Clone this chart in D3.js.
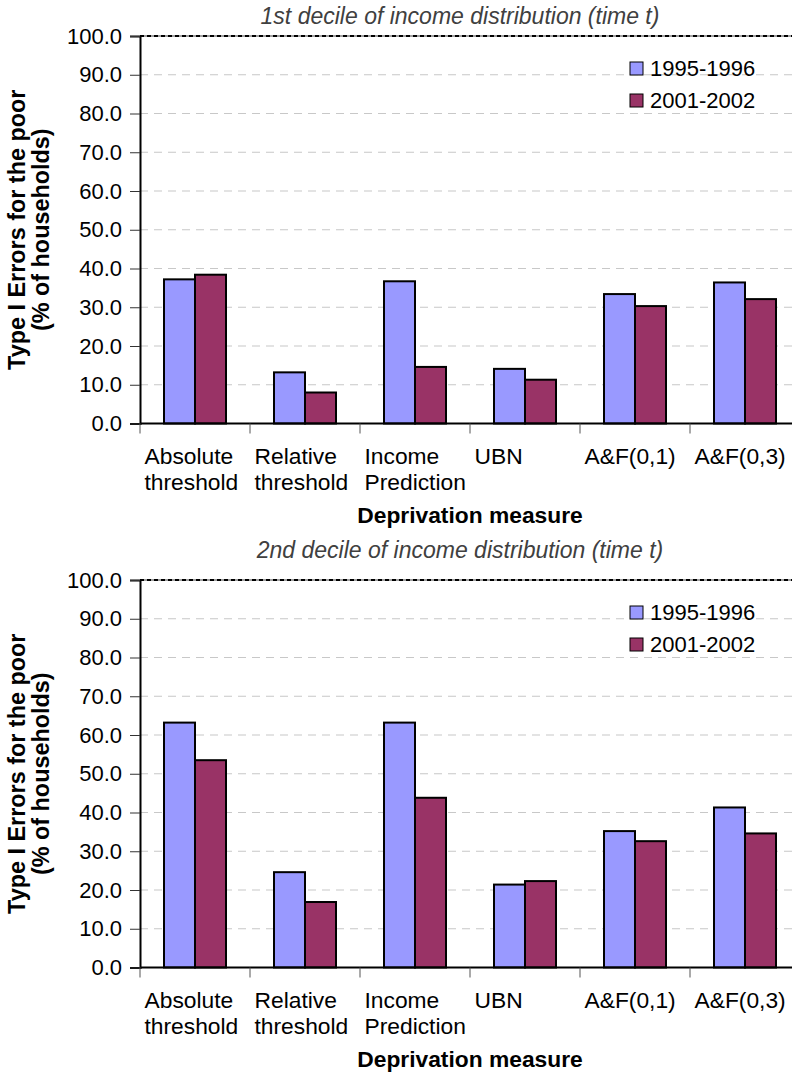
<!DOCTYPE html>
<html>
<head>
<meta charset="utf-8">
<script src="https://cdn.jsdelivr.net/npm/d3@7"></script>
<style>
  body { margin: 0; background: #fff; }
  svg { display: block; font-family: Arial, "Liberation Sans", sans-serif; }
</style>
</head>
<body>
<svg id="drawing_region"></svg>
<script>
var categories = ["Absolute threshold", "Relative threshold", "Income Prediction", "UBN", "A&F(0,1)", "A&F(0,3)"];
var series = ["1995-1996", "2001-2002"];
var colors = ["#9999ff", "#993366"];

// 1st decile
var d1_1995 = [37.2, 13.2, 36.7, 14.1, 33.4, 36.4];
var d1_2001 = [38.4, 8.0, 14.6, 11.3, 30.3, 32.1];
// 2nd decile
var d2_1995 = [63.2, 24.6, 63.2, 21.4, 35.2, 41.3];
var d2_2001 = [53.5, 16.9, 43.8, 22.3, 32.6, 34.6];

var yTicks = [0, 10, 20, 30, 40, 50, 60, 70, 80, 90, 100];

var width = 792;
var height = 1076;

var svg = d3.select('#drawing_region')
    .attr('width', width)
    .attr('height', height);

function drawChart(top, titleY, title, vals) {
    var left = 140, right = 800, plotH = 387.5;
    var bottom = top + plotH;

    var x0 = d3.scaleBand()
        .domain(categories)
        .range([left, right])
        .padding(0);

    var groupW = x0.bandwidth() * 0.5636;
    var x1 = d3.scaleBand()
        .domain(series)
        .range([(x0.bandwidth() - groupW) / 2, (x0.bandwidth() + groupW) / 2]);

    var y = d3.scaleLinear()
        .domain([0, 100])
        .range([bottom, top]);

    var g = svg.append('g');

    // gridlines
    g.append('g').selectAll('line')
        .data(yTicks.filter(d => d > 0 && d < 100))
        .join('line')
        .attr('x1', left).attr('x2', right)
        .attr('y1', d => y(d)).attr('y2', d => y(d))
        .attr('stroke', '#c8c8c8')
        .attr('stroke-width', 1.2)
        .attr('stroke-dasharray', '8,6');

    // top line (100)
    g.append('line')
        .attr('x1', left).attr('x2', right)
        .attr('y1', y(100)).attr('y2', y(100))
        .attr('stroke', '#a0a0a0').attr('stroke-width', 2);
    g.append('line')
        .attr('x1', left).attr('x2', right)
        .attr('y1', y(100)).attr('y2', y(100))
        .attr('stroke', '#000').attr('stroke-width', 2)
        .attr('stroke-dasharray', '4,3');

    // bars
    var rows = categories.map((c, i) => ({cat: c, values: [vals[0][i], vals[1][i]]}));
    g.append('g').selectAll('g')
        .data(rows)
        .join('g')
        .attr('transform', d => `translate(${x0(d.cat)},0)`)
        .selectAll('rect')
        .data(d => d.values.map((v, k) => ({s: series[k], v: v, k: k})))
        .join('rect')
        .attr('x', d => x1(d.s))
        .attr('width', x1.bandwidth())
        .attr('y', d => y(d.v))
        .attr('height', d => y(0) - y(d.v))
        .attr('fill', d => colors[d.k])
        .attr('stroke', '#000')
        .attr('stroke-width', 2);

    // y axis
    var yaxis = d3.axisLeft(y)
        .tickValues(yTicks)
        .tickFormat(d3.format('.1f'))
        .tickSize(10)
        .tickPadding(8);
    var ya = g.append('g')
        .attr('transform', `translate(${left},0)`)
        .call(yaxis);
    ya.select('.domain').attr('stroke', '#000').attr('stroke-width', 2);
    ya.selectAll('.tick line').attr('stroke', '#333').attr('stroke-width', 1);
    ya.selectAll('.tick text')
        .attr('font-size', 22)
        .attr('font-family', 'Arial, "Liberation Sans", sans-serif')
        .attr('fill', '#000');

    // x axis
    var xa = g.append('g');
    xa.append('line')
        .attr('x1', left).attr('x2', right)
        .attr('y1', bottom).attr('y2', bottom)
        .attr('stroke', '#000').attr('stroke-width', 2);
    xa.selectAll('line.tk')
        .data(categories)
        .join('line')
        .attr('class', 'tk')
        .attr('x1', d => x0(d)).attr('x2', d => x0(d))
        .attr('y1', bottom).attr('y2', bottom + 10)
        .attr('stroke', '#555').attr('stroke-width', 1);

    var labels = xa.selectAll('text.cat')
        .data(categories)
        .join('text')
        .attr('class', 'cat')
        .attr('font-size', 22.8)
        .attr('fill', '#000')
        .attr('text-anchor', 'start');
    labels.selectAll('tspan')
        .data(d => d.split(' ').map(w => ({w: w, c: d})))
        .join('tspan')
        .attr('x', d => x0(d.c) + 4.5)
        .attr('y', (d, i) => bottom + 40 + i * 26)
        .text(d => d.w);

    // axis titles
    g.append('text')
        .attr('x', (left + right) / 2)
        .attr('y', bottom + 99)
        .attr('text-anchor', 'middle')
        .attr('font-size', 22.8)
        .attr('font-weight', 'bold')
        .text('Deprivation measure');

    var yt = g.append('text')
        .attr('transform', `translate(25,${(top + bottom) / 2}) rotate(-90)`)
        .attr('text-anchor', 'middle')
        .attr('font-size', 23.4)
        .attr('font-weight', 'bold');
    yt.append('tspan').attr('x', 0).attr('dy', 0).text('Type I Errors for the poor');
    yt.append('tspan').attr('x', 0).attr('dy', 24).text('(% of households)');

    // chart title
    g.append('text')
        .attr('x', 460)
        .attr('y', titleY)
        .attr('text-anchor', 'middle')
        .attr('font-size', 23)
        .attr('font-style', 'italic')
        .attr('fill', '#404040')
        .text(title);

    // legend
    var lg = g.append('g').selectAll('g')
        .data(series)
        .join('g')
        .attr('transform', (d, i) => `translate(630,${top + 40 + i * 32})`);
    lg.append('rect')
        .attr('x', 0).attr('y', -14)
        .attr('width', 13).attr('height', 13)
        .attr('fill', (d, i) => colors[i])
        .attr('stroke', '#000').attr('stroke-width', 1);
    lg.append('text')
        .attr('x', 20).attr('y', 0)
        .attr('font-size', 22)
        .text(d => d);
}

drawChart(36, 24, '1st decile of income distribution (time t)', [d1_1995, d1_2001]);
drawChart(580, 558, '2nd decile of income distribution (time t)', [d2_1995, d2_2001]);
</script>
</body>
</html>
